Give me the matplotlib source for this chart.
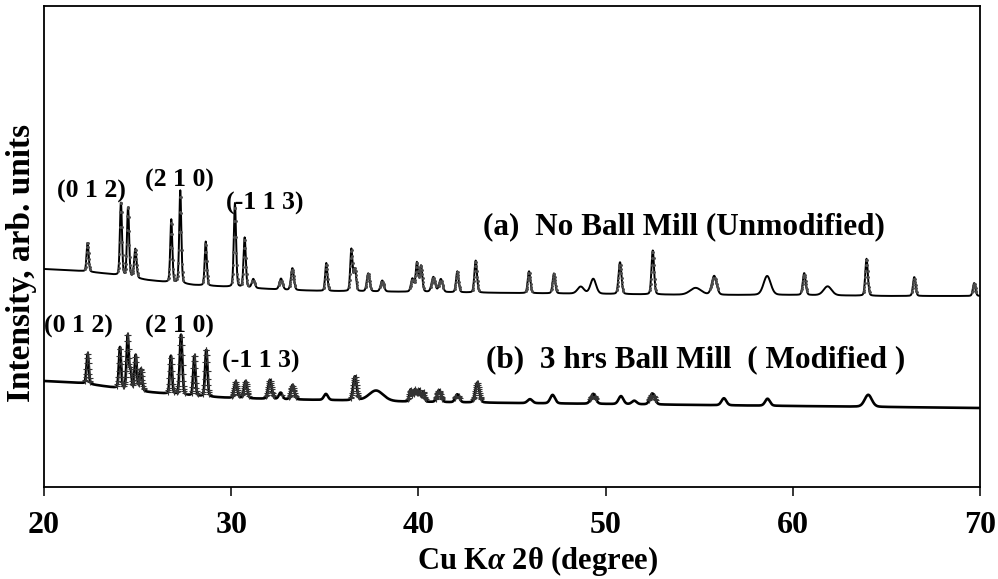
import numpy as np
import matplotlib
matplotlib.use('Agg')
import matplotlib.pyplot as plt

plt.rcParams['font.family'] = ['Liberation Serif', 'DejaVu Serif']
plt.rcParams['font.weight'] = 'bold'
plt.rcParams['mathtext.fontset'] = 'custom'
plt.rcParams['mathtext.rm'] = 'Liberation Serif:bold'
plt.rcParams['mathtext.it'] = 'Liberation Serif:bold:italic'

# Baselines (2theta, intensity in arb. units)
base_x = [20, 22, 23.5, 25.5, 28, 30, 33, 35, 40, 45, 50, 55, 60, 65, 70]
base_a = [218, 216, 213, 207, 202, 200, 197, 196, 195, 194, 193, 192, 192, 191, 191]
base_b = [106, 104, 100, 95, 91, 89, 87.5, 87, 85, 84, 83, 82, 81, 80, 79]

# (a) No ball mill: peak position, height above background, FWHM
pos_a = [22.33, 24.11, 24.49, 24.88, 26.80, 27.28, 28.64, 30.20, 30.72, 31.18,
         32.66, 33.27, 35.08, 36.42, 36.61, 37.32, 38.07, 39.68, 39.92, 40.14,
         40.80, 41.20, 42.08, 43.06, 45.91, 47.24, 48.67, 49.34, 50.77, 52.52,
         54.81, 55.80, 58.63, 60.61, 61.86, 63.94, 66.49, 69.69]
hgt_a = [29, 74, 70, 29, 63, 93, 44, 84, 50, 9,
         11, 22, 28, 42, 22, 18, 11, 13, 29, 26,
         15, 13, 21, 32, 22, 20, 7, 15, 32, 44,
         7, 19, 19, 22, 9, 37, 19, 13]
fwhm_a = [0.13, 0.13, 0.13, 0.15, 0.13, 0.13, 0.13, 0.14, 0.14, 0.18,
          0.2, 0.18, 0.14, 0.14, 0.15, 0.18, 0.2, 0.18, 0.15, 0.16,
          0.22, 0.22, 0.16, 0.16, 0.16, 0.16, 0.4, 0.35, 0.18, 0.16,
          0.7, 0.3, 0.45, 0.18, 0.5, 0.16, 0.16, 0.16]

# (b) 3 hrs ball mill
pos_b = [22.33, 24.06, 24.47, 24.63, 24.90, 25.18, 26.78, 27.32, 28.03, 28.67,
         30.24, 30.77, 32.07, 32.64, 33.28, 35.06, 36.61, 37.74, 39.59, 39.82,
         40.03, 40.26, 41.10, 42.08, 43.15, 45.96, 47.17, 49.34, 50.82, 51.53,
         52.50, 56.32, 58.65, 64.03]
hgt_b = [30, 41, 54, 18, 35, 22, 38, 60, 40, 47,
         16, 17, 19, 6.5, 14.5, 6, 24, 10.5, 12, 12,
         12, 10, 12, 8, 20, 4, 8.5, 10, 8, 3.5,
         11, 7, 7, 12]
fwhm_b = [0.14, 0.14, 0.14, 0.12, 0.14, 0.16, 0.14, 0.16, 0.14, 0.15,
          0.2, 0.2, 0.22, 0.22, 0.22, 0.25, 0.22, 0.9, 0.16, 0.16,
          0.16, 0.16, 0.25, 0.25, 0.25, 0.3, 0.3, 0.3, 0.3, 0.3,
          0.3, 0.3, 0.3, 0.45]

tt = np.arange(20, 70.0001, 0.02)


def pattern(pos, hgt, fwhm, base, eta=0.2):
    y = np.interp(tt, base_x, base)
    for p, h, w in zip(pos, hgt, fwhm):
        d = (tt - p) / (w / 2)
        g = np.exp(-np.log(2) * d**2)
        l = 1 / (1 + d**2)
        y = y + h * ((1 - eta) * g + eta * l)
    return y


ya = pattern(pos_a, hgt_a, fwhm_a, base_a)
yb = pattern(pos_b, hgt_b, fwhm_b, base_b)

fig = plt.figure(figsize=(9.98, 5.79), dpi=100)
ax = fig.add_axes([44 / 998, 92 / 579, 936 / 998, 481 / 579])

ax.plot(tt, ya, color='black', lw=1.4)
steep = np.abs(np.gradient(ya)) > 1.2
ax.plot(tt[steep], ya[steep], ls='none', marker='.', ms=2.2, color='0.3')

ax.plot(tt, yb, color='black', lw=1.9)
steep = np.abs(np.gradient(yb)) > 0.8
ax.plot(tt[steep], yb[steep], ls='none', marker='+', ms=3.8, mew=0.8, color='0.2')

ax.set_xlim(20, 70)
ax.set_ylim(0, 481)
ax.set_yticks([])
ax.set_xticks([20, 30, 40, 50, 60, 70])
ax.tick_params(axis='x', direction='out', length=6.5, width=1.1, pad=11, labelsize=23)
for s in ax.spines.values():
    s.set_linewidth(1.3)

ax.set_xlabel(r'Cu K$\alpha$ 2θ (degree)', fontsize=22, fontweight='bold')
ax.xaxis.set_label_coords(0.527, -0.118)
ax.set_ylabel('Intensity, arb. units', fontsize=24, fontweight='bold')
ax.yaxis.set_label_coords(-0.008, 0.466)

# hkl labels
hkl_a = ['(0 1 2)', '(2 1 0)', '(-1 1 3)']
hkl_b = ['(0 1 2)', '(2 1 0)', '(-1 1 3)']
lab_xa = [22.51, 27.26, 31.8]
lab_ya = [296, 307, 284]
lab_xb = [21.83, 27.21, 31.56]
lab_yb = [161, 161, 126]
for t, x, y in zip(hkl_a, lab_xa, lab_ya):
    ax.text(x, y, t, ha='center', va='center', fontsize=18.5, fontweight='bold')
for t, x, y in zip(hkl_b, lab_xb, lab_yb):
    ax.text(x, y, t, ha='center', va='center', fontsize=18.5, fontweight='bold')

ax.text(43.45, 260, '(a)  No Ball Mill (Unmodified)', ha='left', va='center',
        fontsize=22.5, fontweight='bold')
ax.text(43.6, 127, '(b)  3 hrs Ball Mill  ( Modified )', ha='left', va='center',
        fontsize=22.5, fontweight='bold')

fig.savefig('out.png', dpi=100)
